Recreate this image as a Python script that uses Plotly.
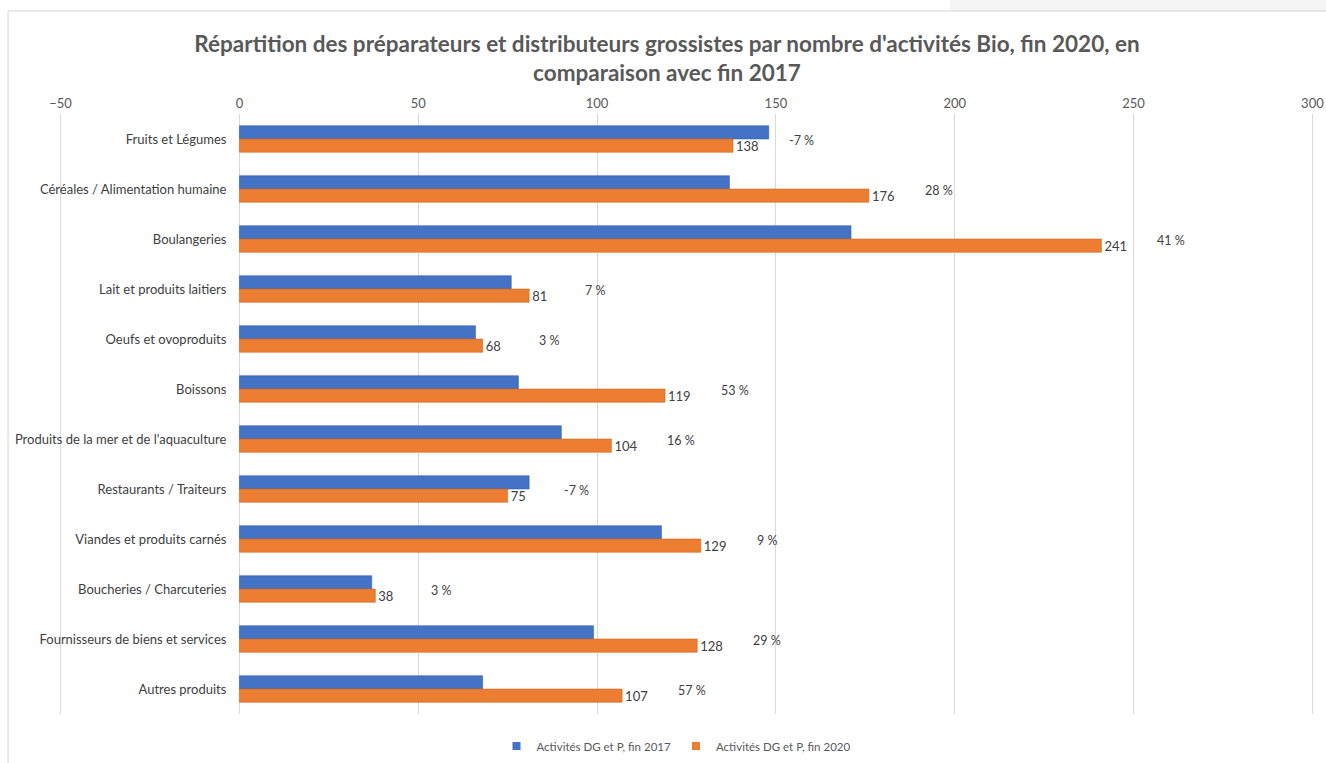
import plotly.graph_objects as go

categories = [
    "Fruits et Légumes",
    "Céréales / Alimentation humaine",
    "Boulangeries",
    "Lait et produits laitiers",
    "Oeufs et ovoproduits",
    "Boissons",
    "Produits de la mer et de l'aquaculture",
    "Restaurants / Traiteurs",
    "Viandes et produits carnés",
    "Boucheries / Charcuteries",
    "Fournisseurs de biens et services",
    "Autres produits",
]
values_2017 = [148, 137, 171, 76, 66, 78, 90, 81, 118, 37, 99, 68]
values_2020 = [138, 176, 241, 81, 68, 119, 104, 75, 129, 38, 128, 107]
pct_labels = ["-7 %", "28 %", "41 %", "7 %", "3 %", "53 %", "16 %", "-7 %", "9 %", "3 %", "29 %", "57 %"]
series_names = ["Activités DG et P, fin 2017", "Activités DG et P, fin 2020"]
x_ticks = [-50, 0, 50, 100, 150, 200, 250, 300]

FONT = "Lato"
TXT = "#404040"
BLUE = "#4472C4"
ORANGE = "#ED7D31"
XMIN, XMAX = -51, 301  # slightly padded so the end gridlines are drawn

W, H = 1326, 763
UNIT = (1312 - 61) / 350.0           # pixels per value unit
PL = 61 + (XMIN + 50) * UNIT         # plot area left in pixels
PR = 1312 + (XMAX - 300) * UNIT      # plot area right
PT, PB = 114, 714


def px_x(p):
    return (p - PL) / (PR - PL)


def px_y(p):
    return (PB - p) / (PB - PT)


fig = go.Figure()
fig.add_trace(go.Bar(
    y=categories, x=values_2017, orientation="h", name=series_names[0],
    marker=dict(color=BLUE, line=dict(color="#3A62AA", width=0.6)),
    showlegend=False, hoverinfo="x+y",
))
fig.add_trace(go.Bar(
    y=categories, x=values_2020, orientation="h", name=series_names[1],
    marker=dict(color=ORANGE, line=dict(color="#C9692A", width=0.6)),
    text=[str(v) for v in values_2020], textposition="outside",
    constraintext="none",
    textfont=dict(family=FONT, size=13, color=TXT), cliponaxis=False,
    showlegend=False, hoverinfo="x+y",
))
# legend entries with square swatches
for name, col in zip(series_names, [BLUE, ORANGE]):
    fig.add_trace(go.Scatter(
        x=[None], y=[None], mode="markers", name=name,
        marker=dict(symbol="square", size=8, color=col), showlegend=True,
    ))

for cat, v, p in zip(categories, values_2020, pct_labels):
    fig.add_annotation(x=v, y=cat, text=p, showarrow=False, xanchor="left",
                       xshift=54, yshift=-1, font=dict(family=FONT, size=12.5, color=TXT))

# top-right grey band and chart border
fig.add_shape(type="rect", xref="paper", yref="paper",
              x0=px_x(950), x1=px_x(1330), y0=px_y(11), y1=px_y(-2),
              line=dict(width=0), fillcolor="#F5F5F5", layer="below")
fig.add_shape(type="rect", xref="paper", yref="paper",
              x0=px_x(8.5), x1=px_x(1340), y0=px_y(770), y1=px_y(11),
              line=dict(color="#D4D4D4", width=1), layer="below")

fig.update_layout(
    width=W, height=H,
    margin=dict(l=PL, r=W - PR, t=PT, b=H - PB, autoexpand=False),
    paper_bgcolor="white", plot_bgcolor="white",
    barmode="group", bargap=0.47, bargroupgap=0,
    title=dict(
        text="Répartition des préparateurs et distributeurs grossistes par nombre d'activités Bio, fin 2020, en<br>comparaison avec fin 2017",
        x=667 / W, xanchor="center", y=(H - 52) / H, yanchor="middle", yref="container",
        font=dict(family=FONT, size=22.5, color="#595959", weight="bold"),
    ),
    xaxis=dict(
        side="top", range=[XMIN, XMAX], tickvals=x_ticks,
        showgrid=True, gridcolor="#D9D9D9", gridwidth=1,
        zeroline=False, showline=False, ticks="", ticklabelstandoff=2,
        tickfont=dict(family=FONT, size=13, color="#595959"),
    ),
    yaxis=dict(
        autorange="reversed", anchor="free", position=(0 - XMIN) / (XMAX - XMIN),
        showgrid=False, showline=False, ticks="", ticklabelstandoff=13,
        tickfont=dict(family=FONT, size=13, color=TXT),
    ),
    legend=dict(orientation="h", x=px_x(676), xanchor="center", y=px_y(746), yanchor="middle",
                font=dict(family=FONT, size=11.5, color="#595959"), itemwidth=30,
                traceorder="normal"),
    showlegend=True,
)

fig.write_html(
    "out.html",
    config={"displayModeBar": False},
    post_script="document.body.style.margin='0';document.body.style.overflow='hidden';",
)
